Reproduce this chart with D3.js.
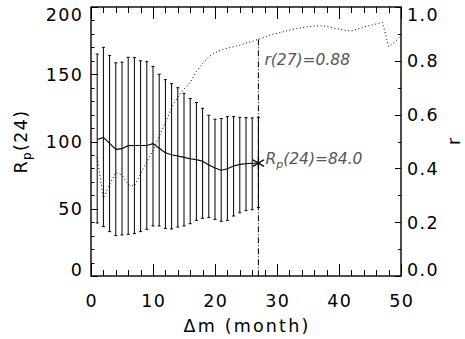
<!DOCTYPE html>
<html>
<head>
<meta charset="utf-8">
<script src="https://cdn.jsdelivr.net/npm/d3@7"></script>
<style>
  html, body { margin: 0; padding: 0; background: #fff; }
  svg text { font-family: "DejaVu Sans", sans-serif; }
</style>
</head>
<body>
<div id="chart"></div>
<script>
// lag in months for the error bars / mean curve
const lagMonths = [1, 2, 3, 4, 5, 6, 7, 8, 9, 10, 11, 12, 13, 14, 15, 16, 17, 18, 19, 20, 21, 22, 23, 24, 25, 26, 27];
const meanRp = [101.5, 103, 98.6, 94.2, 94.7, 96.9, 97, 97, 97, 98.4, 95, 91.7, 90.2, 89.2, 88.2, 87.2, 86.5, 85.3, 82.5, 80.3, 78.6, 79.8, 81.8, 83, 83.5, 83.8, 84.0];
const upperRp = [165, 170, 164, 158.5, 159, 162.6, 162.5, 160, 159.4, 155.8, 150, 146, 143, 140, 135.8, 132, 129, 124.7, 119.5, 116.6, 117.1, 118.5, 118.5, 118, 117.8, 117.6, 118];
const lowerRp = [39.4, 36.7, 33, 30, 30.5, 31, 31.5, 33, 34.7, 37.2, 37.2, 35.4, 35, 36.4, 37.2, 38.9, 41.4, 42.9, 43.4, 42.1, 40.7, 41.4, 44.6, 47, 48.6, 49.3, 51];

// correlation coefficient r vs lag
const rLag = [1, 2, 3, 4, 5, 6, 7, 8, 9, 10, 11, 12, 13, 14, 15, 16, 17, 18, 19, 20, 21, 22, 23, 24, 25,
    26, 27, 28, 29, 30, 31, 32, 33, 34, 35, 36, 37, 38, 39, 40, 41, 42, 43, 44, 45, 46, 47, 48, 49, 50];
const rValues = [0.44, 0.29, 0.34, 0.385, 0.375, 0.34, 0.335, 0.38, 0.425, 0.465, 0.52, 0.57, 0.625, 0.665, 0.695, 0.72, 0.76, 0.79, 0.815, 0.83,
    0.84, 0.847, 0.852, 0.858, 0.866, 0.872, 0.88, 0.888, 0.897, 0.902, 0.908, 0.914, 0.919, 0.924, 0.927, 0.929, 0.93, 0.928, 0.922, 0.918,
    0.913, 0.911, 0.918, 0.926, 0.931, 0.937, 0.943, 0.853, 0.87, 0.893];

const bestLag = 27;
const bestRp = 84.0;
const bestR = 0.88;

const xTickLabels = [0, 10, 20, 30, 40, 50];
const leftTickLabels = [0, 50, 100, 150, 200];
const rightTickLabels = ['0.0', '0.2', '0.4', '0.6', '0.8', '1.0'];

const width = 465;
const height = 339;
const margin = { top: 7, right: 64, bottom: 63, left: 91 };
const plotBottom = height - margin.bottom;
const plotRight = width - margin.right;

const FONT = 17.5;
const SPACING = 1.4;

const svg = d3.select('#chart')
    .append('svg')
        .attr('width', width)
        .attr('height', height);

const x = d3.scaleLinear().domain([0, 50]).range([margin.left, plotRight]);
const yL = d3.scaleLinear().domain([0, 200]).range([plotBottom, margin.top]);
const yR = d3.scaleLinear().domain([0, 1]).range([plotBottom, margin.top]);

// ticks (all pointing inwards)
const ticks = svg.append('g').attr('stroke', '#000').attr('stroke-width', 1);

x.ticks(25).forEach(v => {
    const len = v % 10 === 0 ? 12 : 6;
    const px = Math.round(x(v)) + 0.5;
    ticks.append('line').attr('x1', px).attr('x2', px).attr('y1', plotBottom).attr('y2', plotBottom - len);
    ticks.append('line').attr('x1', px).attr('x2', px).attr('y1', margin.top).attr('y2', margin.top + len);
});

yL.ticks(20).forEach(v => {
    const len = v % 50 === 0 ? 7 : 3.5;
    const py = Math.round(yL(v)) + 0.5;
    ticks.append('line').attr('x1', margin.left).attr('x2', margin.left + len).attr('y1', py).attr('y2', py);
});

yR.ticks(10).forEach(v => {
    const len = Math.round(v * 10) % 2 === 0 ? 6 : 3;
    const py = Math.round(yR(v)) + 0.5;
    ticks.append('line').attr('x1', plotRight).attr('x2', plotRight - len).attr('y1', py).attr('y2', py);
});

// frame
svg.append('rect')
    .attr('x', margin.left)
    .attr('y', margin.top)
    .attr('width', plotRight - margin.left)
    .attr('height', plotBottom - margin.top)
    .attr('fill', 'none')
    .attr('stroke', '#000')
    .attr('stroke-width', 1.4);

// tick labels; ends of the y axes are kept inside the frame like IDL does
const clampY = v => Math.max(margin.top + 8, Math.min(plotBottom - 6, v));

svg.append('g').selectAll('text')
    .data(xTickLabels)
    .join('text')
        .attr('x', d => x(d) + SPACING / 2)
        .attr('y', plotBottom + 30.5)
        .attr('text-anchor', 'middle')
        .attr('font-size', FONT)
        .attr('letter-spacing', SPACING)
        .text(d => d);

svg.append('g').selectAll('text')
    .data(leftTickLabels)
    .join('text')
        .attr('x', margin.left - 9 + SPACING)
        .attr('y', d => clampY(yL(d)))
        .attr('dy', '0.36em')
        .attr('text-anchor', 'end')
        .attr('font-size', FONT)
        .attr('letter-spacing', SPACING)
        .text(d => d);

svg.append('g').selectAll('text')
    .data(rightTickLabels)
    .join('text')
        .attr('x', plotRight + 6)
        .attr('y', d => clampY(yR(+d)))
        .attr('dy', '0.36em')
        .attr('font-size', FONT)
        .attr('letter-spacing', SPACING)
        .text(d => d);

// axis titles
svg.append('text')
    .attr('x', (margin.left + plotRight) / 2 + 1)
    .attr('y', height - 7)
    .attr('text-anchor', 'middle')
    .attr('font-size', FONT)
    .attr('letter-spacing', 2.2)
    .text('Δm (month)');

const leftTitle = svg.append('text')
    .attr('transform', `translate(27,${(margin.top + plotBottom) / 2}) rotate(-90)`)
    .attr('text-anchor', 'middle')
    .attr('font-size', FONT)
    .attr('letter-spacing', SPACING);
leftTitle.append('tspan').text('R');
leftTitle.append('tspan').attr('font-size', 12).attr('dy', 4).text('p');
leftTitle.append('tspan').attr('dy', -4).text('(24)');

svg.append('text')
    .attr('transform', `translate(460,${(margin.top + plotBottom) / 2}) rotate(-90)`)
    .attr('text-anchor', 'middle')
    .attr('font-size', FONT)
    .text('r');

// error bars
const bars = svg.append('g').attr('stroke', '#000').attr('stroke-width', 1);
lagMonths.forEach((m, i) => {
    const px = x(m);
    bars.append('line').attr('x1', px).attr('x2', px).attr('y1', yL(lowerRp[i])).attr('y2', yL(upperRp[i]));
    bars.append('line').attr('x1', px - 1.5).attr('x2', px + 1.5).attr('y1', yL(upperRp[i])).attr('y2', yL(upperRp[i]));
    bars.append('line').attr('x1', px - 1.5).attr('x2', px + 1.5).attr('y1', yL(lowerRp[i])).attr('y2', yL(lowerRp[i]));
});

// mean Rp curve
svg.append('path')
    .datum(lagMonths)
    .attr('fill', 'none')
    .attr('stroke', '#000')
    .attr('stroke-width', 1.1)
    .attr('d', d3.line()
        .x(d => x(d))
        .y((d, i) => yL(meanRp[i])));

// r curve (dotted)
svg.append('path')
    .datum(rLag)
    .attr('fill', 'none')
    .attr('stroke', '#000')
    .attr('stroke-width', 1)
    .attr('stroke-dasharray', '1,2.5')
    .attr('d', d3.line()
        .x(d => x(d))
        .y((d, i) => yR(rValues[i])));

// marker of the best lag
svg.append('line')
    .attr('x1', x(bestLag))
    .attr('x2', x(bestLag))
    .attr('y1', yR(bestR))
    .attr('y2', plotBottom)
    .attr('stroke', '#000')
    .attr('stroke-width', 1)
    .attr('stroke-dasharray', '6,2,1,2');

svg.append('path')
    .attr('transform', `translate(${x(bestLag)},${yL(bestRp)})`)
    .attr('d', d3.symbol().type(d3.symbolAsterisk).size(120))
    .attr('fill', 'none')
    .attr('stroke', '#000')
    .attr('stroke-width', 1.4);

svg.append('text')
    .attr('x', x(bestLag) + 6)
    .attr('y', 65)
    .attr('font-size', 15.5)
    .attr('font-style', 'italic')
    .attr('fill', '#555')
    .text(`r(${bestLag})=${bestR.toFixed(2)}`);

const rpText = svg.append('text')
    .attr('x', x(bestLag) + 7)
    .attr('y', yL(bestRp) + 1)
    .attr('font-size', 15.5)
    .attr('font-style', 'italic')
    .attr('fill', '#555');
rpText.append('tspan').text('R');
rpText.append('tspan').attr('font-size', 11).attr('dy', 4).text('p');
rpText.append('tspan').attr('dy', -4).text(`(24)=${bestRp.toFixed(1)}`);
</script>
</body>
</html>
